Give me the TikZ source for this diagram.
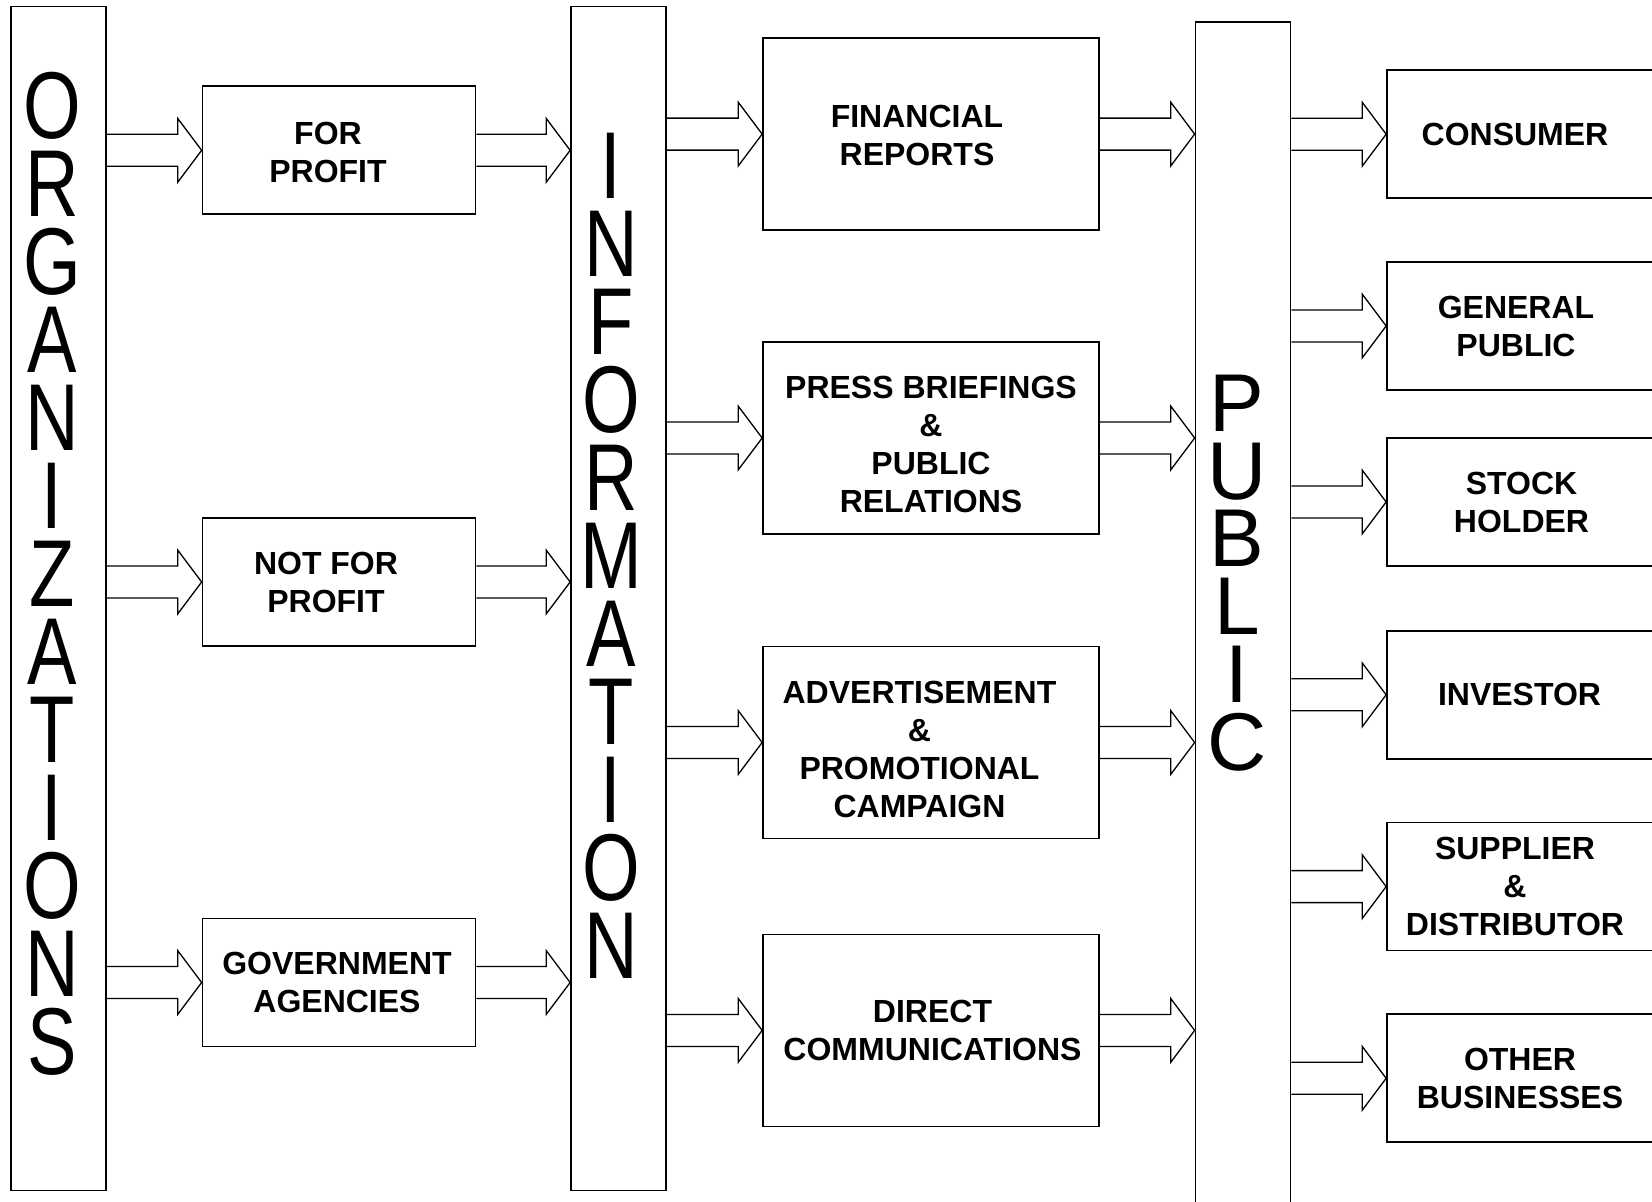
\documentclass[tikz,border=0pt]{standalone}
\usepackage{fontspec}
\setmainfont{Liberation Sans}
\newfontfamily\barfont[FakeStretch=0.78]{Liberation Sans}
\usetikzlibrary{calc}

\tikzset{
  bar/.style={draw, line width=1.7pt, minimum width=95pt, inner sep=0pt},
  box/.style={draw, line width=1.7pt, inner sep=0pt},
  lbl/.style={align=center, font=\bfseries\fontsize{32}{38}\selectfont},
  bartext/.style={align=center, inner sep=0pt},
  fatline/.style={line width=1.3pt, line join=miter},
}

% hollow block arrow, both ends at the same height
\newcommand{\fatarrow}[2]{%
  \draw[fatline] ($(#1)+(0,-16)$) -- ($(#2)+(-24,-16)$) -- ($(#2)+(-24,-32)$)
    -- (#2) -- ($(#2)+(-24,32)$) -- ($(#2)+(-24,16)$) -- ($(#1)+(0,16)$);}

\begin{document}
\begin{tikzpicture}[x=1pt, y=-1pt]
  \path[use as bounding box] (0,0) rectangle (1652,1202);
  \clip (0,0) rectangle (1652,1202);

  % the three tall bars
  \node[bar, minimum height=1184pt] (org) at (58.5,598.4) {};
  \node[bar, minimum height=1184pt] (info) at (618.5,598.4) {};
  \node[bar, minimum height=1208pt] (pub) at (1243,626) {};
  \node[bartext, font=\barfont\fontsize{95}{78}\selectfont] (orgtext) at (52,574)
    {O\\R\\G\\A\\N\\I\\Z\\A\\T\\I\\O\\N\\S};
  \node[bartext, font=\barfont\fontsize{95}{78}\selectfont] (infotext) at (611,556)
    {I\\N\\F\\O\\R\\M\\A\\T\\I\\O\\N};
  \node[bartext, font=\fontsize{82}{67.7}\selectfont] (pubtext) at (1237,573)
    {P\\U\\B\\L\\I\\C};

  % kinds of organizations
  \begin{scope}[every node/.style={box, minimum width=273pt, minimum height=128pt}]
    \node[label={[lbl, xshift=-11pt, yshift=-2pt]center:FOR\\PROFIT}] (fp) at (339,150.3) {};
    \node[label={[lbl, xshift=-13pt]center:NOT FOR\\PROFIT}] (nfp) at (339,582) {};
    \node[label={[lbl, xshift=-2pt]center:GOVERNMENT\\AGENCIES}] (gov) at (339,982.5) {};
  \end{scope}

  % kinds of information
  \begin{scope}[every node/.style={box, minimum width=336pt, minimum height=192pt}]
    \node[label={[lbl, xshift=-14pt, yshift=-1pt]center:FINANCIAL\\REPORTS}] (fin) at (931,134.1) {};
    \node[label={[lbl, yshift=-6pt]center:PRESS BRIEFINGS\\\&\\PUBLIC\\RELATIONS}] (press) at (931,438) {};
    \node[label={[lbl, xshift=-11.5pt, yshift=-7pt]center:ADVERTISEMENT\\\&\\PROMOTIONAL\\CAMPAIGN}] (adv) at (931,742.5) {};
    \node[label={[lbl, xshift=1.5pt]center:DIRECT\\COMMUNICATIONS}] (direct) at (931,1030.4) {};
  \end{scope}

  % kinds of public
  \begin{scope}[every node/.style={box, minimum width=269pt, minimum height=128pt}]
    \node[label={[lbl, xshift=-6.5pt]center:CONSUMER}] (cons) at (1521.5,134.2) {};
    \node[label={[lbl, xshift=-5.5pt]center:GENERAL\\PUBLIC}] (gen) at (1521.5,326) {};
    \node[label={[lbl]center:STOCK\\HOLDER}] (stock) at (1521.5,502) {};
    \node[label={[lbl, xshift=-2pt]center:INVESTOR}] (inv) at (1521.5,694.8) {};
    \node[label={[lbl, xshift=-6.5pt]center:SUPPLIER\\\&\\DISTRIBUTOR}] (sup) at (1521.5,886.6) {};
    \node[label={[lbl, xshift=-1.5pt]center:OTHER\\BUSINESSES}] (oth) at (1521.5,1078.3) {};
  \end{scope}

  % arrows
  \foreach \b in {fp,nfp,gov} {
    \fatarrow{org.east |- \b.west}{\b.west}
    \fatarrow{\b.east}{info.west |- \b.east}
  }
  \foreach \b in {fin,press,adv,direct} {
    \fatarrow{info.east |- \b.west}{\b.west}
    \fatarrow{\b.east}{pub.west |- \b.east}
  }
  \foreach \b in {cons,gen,stock,inv,sup,oth}
    \fatarrow{pub.east |- \b.west}{\b.west};
\end{tikzpicture}
\end{document}
